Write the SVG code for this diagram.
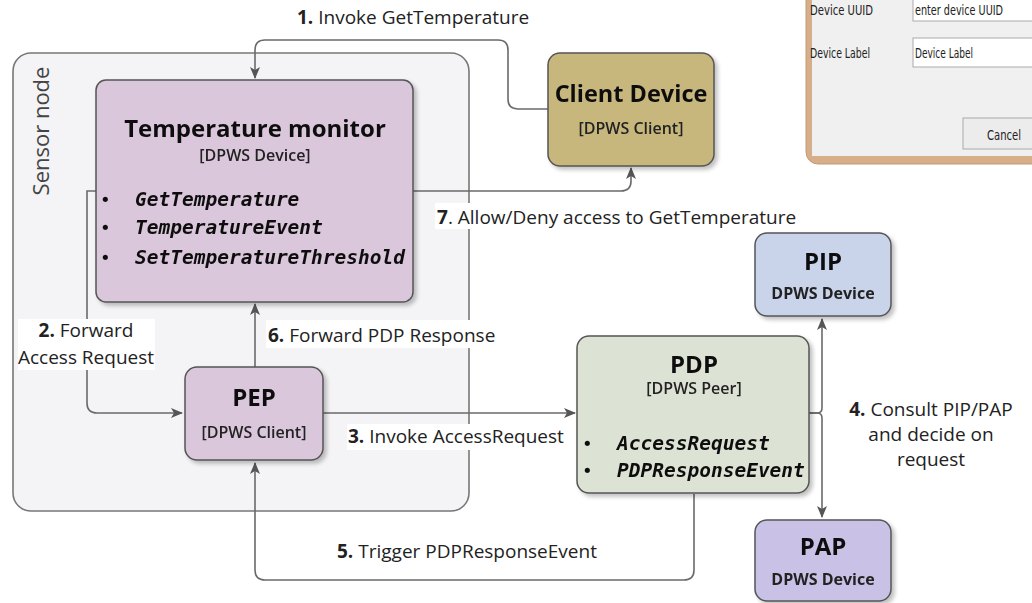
<svg xmlns="http://www.w3.org/2000/svg" width="1032" height="603" viewBox="0 0 1032 603">
  <style>
    .lbl { font-family: "Open Sans", "Noto Sans", sans-serif; font-size: 19px; fill: #222; }
    .num { font-weight: bold; }
    .title { font-family: "Open Sans", "Noto Sans", sans-serif; font-weight: bold; fill: #111; text-anchor: middle; }
    .sub { font-family: "Open Sans", "Noto Sans", sans-serif; font-size: 16px; font-weight: 600; fill: #222; text-anchor: middle; }
    .sub.strong { font-weight: bold; }
    .op { font-family: "DejaVu Sans Mono", "Liberation Mono", monospace; font-weight: bold; font-style: italic; font-size: 19.5px; fill: #111; }
    .bul { font-family: "DejaVu Sans", sans-serif; font-size: 18px; fill: #111; }
    .box { stroke: #555; stroke-width: 1.5; }
    .wire { fill: none; stroke: #6a6a6a; stroke-width: 1.6; }
    .win { font-family: "Liberation Sans Narrow", "DejaVu Sans Condensed", "Liberation Sans", sans-serif; font-size: 14px; fill: #222; }
  </style>
  <defs>
    <marker id="arrow" viewBox="0 0 12 10" refX="11" refY="5" markerWidth="12" markerHeight="10" markerUnits="userSpaceOnUse" orient="auto">
      <path d="M0,0 L12,5 L0,10 L3,5 Z" fill="#555"/>
    </marker>
    <filter id="shadow" x="-10%" y="-10%" width="125%" height="125%">
      <feGaussianBlur in="SourceAlpha" stdDeviation="2"/>
      <feOffset dx="3" dy="3" result="b"/>
      <feComponentTransfer><feFuncA type="linear" slope="0.25"/></feComponentTransfer>
      <feMerge><feMergeNode/><feMergeNode in="SourceGraphic"/></feMerge>
    </filter>
  </defs>

  <rect width="1032" height="603" fill="#ffffff"/>

  <!-- device registration dialog (partial window) -->
  <g id="dialog">
    <rect x="806" y="-20" width="250" height="184" rx="12" fill="#d7ae8a" stroke="#c29a78" stroke-width="1"/>
    <rect x="812" y="-20" width="240" height="176" fill="#f0f0f0"/>
    <text class="win" x="810" y="15" textLength="63" lengthAdjust="spacingAndGlyphs">Device UUID</text>
    <rect x="913" y="-2" width="130" height="23" fill="#ffffff" stroke="#aaa"/>
    <text class="win" x="915" y="15" textLength="88" lengthAdjust="spacingAndGlyphs">enter device UUID</text>
    <text class="win" x="810" y="58" textLength="60" lengthAdjust="spacingAndGlyphs">Device Label</text>
    <rect x="913" y="38" width="130" height="29" fill="#ffffff" stroke="#aaa"/>
    <text class="win" x="915" y="58" textLength="58" lengthAdjust="spacingAndGlyphs">Device Label</text>
    <rect x="963" y="118" width="80" height="31" fill="#ececec" stroke="#aaa"/>
    <text class="win" x="987" y="140" textLength="34" lengthAdjust="spacingAndGlyphs">Cancel</text>
  </g>

  <!-- sensor node container -->
  <g id="sensor-node">
    <rect x="13" y="53" width="456" height="458" rx="18" fill="#f4f4f6" stroke="#777" stroke-width="1.6"/>
    <text transform="translate(49,131) rotate(-90)" text-anchor="middle" font-family="Open Sans, Noto Sans, sans-serif" font-size="22" fill="#444">Sensor node</text>
  </g>

  <!-- connectors -->
  <g id="connectors">
    <!-- 1: client device -> temperature monitor -->
    <path class="wire" d="M548,109 H518 Q508,109 508,99 V50 Q508,40 498,40 H265 Q255,40 255,50 V78" marker-end="url(#arrow)"/>
    <!-- 7: temperature monitor -> client device -->
    <path class="wire" d="M413,191 H621 Q631,191 631,181 V168" marker-end="url(#arrow)"/>
    <!-- 2: temperature monitor -> PEP -->
    <path class="wire" d="M96,191 H87 V403 Q87,413 97,413 H182" marker-end="url(#arrow)"/>
    <!-- 6: PEP -> temperature monitor -->
    <path class="wire" d="M255,367 V304" marker-end="url(#arrow)"/>
    <!-- 3: PEP -> PDP -->
    <path class="wire" d="M323,413 H575" marker-end="url(#arrow)"/>
    <!-- 5: PDP -> PEP -->
    <path class="wire" d="M694,494 V570 Q694,580 684,580 H265 Q255,580 255,570 V463" marker-end="url(#arrow)"/>
    <!-- 4: PDP -> PIP / PAP -->
    <path class="wire" d="M809,413 H817 Q822,413 822,408 V319" marker-end="url(#arrow)"/>
    <path class="wire" d="M809,413 H817 Q822,413 822,418 V517" marker-end="url(#arrow)"/>
  </g>

  <!-- connector labels -->
  <g id="labels">
    <text class="lbl" x="297" y="24"><tspan class="num">1.</tspan> Invoke GetTemperature</text>
    <rect x="435" y="203" width="360" height="26" fill="#ffffff"/>
    <text class="lbl" x="437" y="224"><tspan class="num">7</tspan>. Allow/Deny access to GetTemperature</text>
    <rect x="18" y="319" width="137" height="51" fill="#ffffff"/>
    <text class="lbl" x="86" y="337" text-anchor="middle"><tspan class="num">2.</tspan> Forward</text>
    <text class="lbl" x="86" y="364" text-anchor="middle">Access Request</text>
    <rect x="266" y="320" width="230" height="28" fill="#ffffff"/>
    <text class="lbl" x="268" y="342"><tspan class="num">6.</tspan> Forward PDP Response</text>
    <rect x="347" y="424" width="222" height="26" fill="#ffffff"/>
    <text class="lbl" x="348" y="443"><tspan class="num">3.</tspan> Invoke AccessRequest</text>
    <text class="lbl" x="337" y="558"><tspan class="num">5.</tspan> Trigger PDPResponseEvent</text>
    <text class="lbl" x="931" y="416" text-anchor="middle"><tspan class="num">4.</tspan> Consult PIP/PAP</text>
    <text class="lbl" x="931" y="441" text-anchor="middle">and decide on</text>
    <text class="lbl" x="931" y="466" text-anchor="middle">request</text>
  </g>

  <!-- temperature monitor -->
  <g id="temperature-monitor" filter="url(#shadow)">
    <rect class="box" x="96" y="80" width="317" height="222" rx="10" fill="#dbc7dc"/>
    <text class="title" x="255" y="137" font-size="24">Temperature monitor</text>
    <text class="sub" x="255" y="161">[DPWS Device]</text>
    <text class="bul" x="100" y="206">•</text>
    <text class="op" x="135" y="206">GetTemperature</text>
    <text class="bul" x="100" y="234">•</text>
    <text class="op" x="135" y="234">TemperatureEvent</text>
    <text class="bul" x="100" y="264">•</text>
    <text class="op" x="135" y="264">SetTemperatureThreshold</text>
  </g>

  <!-- client device -->
  <g id="client-device" filter="url(#shadow)">
    <rect class="box" x="548" y="53" width="166" height="113" rx="12" fill="#c7b77d"/>
    <text class="title" x="631" y="102" font-size="23.5">Client Device</text>
    <text class="sub" x="631" y="134">[DPWS Client]</text>
  </g>

  <!-- PEP -->
  <g id="pep" filter="url(#shadow)">
    <rect class="box" x="185" y="367" width="138" height="93" rx="12" fill="#dbc7dc"/>
    <text class="title" x="254" y="406" font-size="24">PEP</text>
    <text class="sub" x="254" y="438">[DPWS Client]</text>
  </g>

  <!-- PDP -->
  <g id="pdp" filter="url(#shadow)">
    <rect class="box" x="577" y="336" width="232" height="157" rx="12" fill="#dce2d4"/>
    <text class="title" x="694" y="373" font-size="24">PDP</text>
    <text class="sub" x="694" y="394">[DPWS Peer]</text>
    <text class="bul" x="582" y="450">•</text>
    <text class="op" x="617" y="450" font-size="19">AccessRequest</text>
    <text class="bul" x="582" y="477">•</text>
    <text class="op" x="617" y="477" font-size="19">PDPResponseEvent</text>
  </g>

  <!-- PIP -->
  <g id="pip" filter="url(#shadow)">
    <rect class="box" x="755" y="233" width="136" height="83" rx="12" fill="#c9d3ea"/>
    <text class="title" x="823" y="270" font-size="24">PIP</text>
    <text class="sub strong" x="823" y="299">DPWS Device</text>
  </g>

  <!-- PAP -->
  <g id="pap" filter="url(#shadow)">
    <rect class="box" x="755" y="520" width="136" height="81" rx="12" fill="#c9c1e6"/>
    <text class="title" x="823" y="555" font-size="24">PAP</text>
    <text class="sub strong" x="823" y="585">DPWS Device</text>
  </g>
</svg>
